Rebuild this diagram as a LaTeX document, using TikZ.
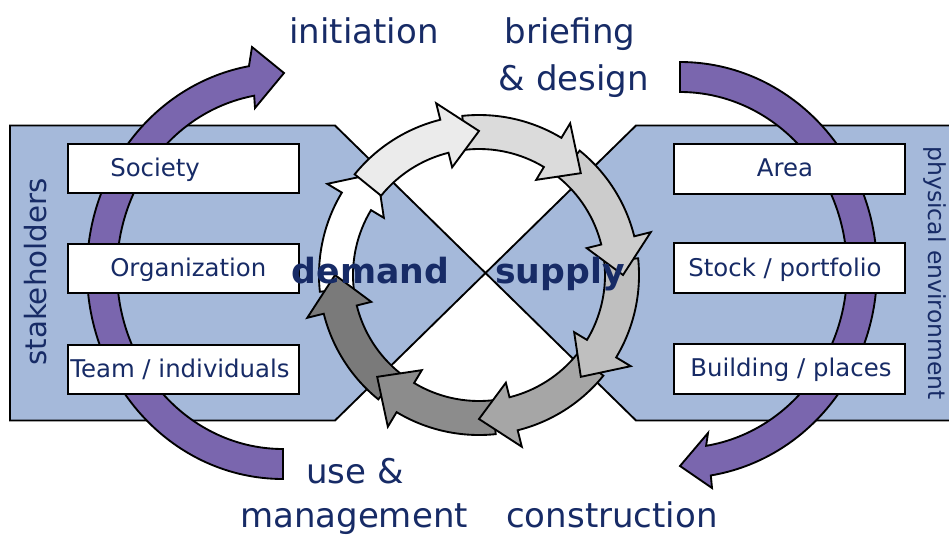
\documentclass[tikz,border=0pt]{standalone}
\usepackage{fontspec}
\setmainfont{DejaVu Sans}
\usetikzlibrary{calc}
\definecolor{panelblue}{HTML}{A5B9DA}
\definecolor{arcpurple}{HTML}{7A66AE}
\definecolor{navy}{HTML}{172B66}
\newcommand{\ringarr}[2]{%
  \filldraw[ringarrow, fill=#1]
    ($(R)+({#2-51}:160)$) arc[start angle={#2-51}, end angle={#2-14}, radius=160]
    -- ($(R)+({#2-14}:177)$) -- ($(R)+({#2}:144)$) -- ($(R)+({#2-14}:111)$)
    -- ($(R)+({#2-14}:126)$) arc[start angle={#2-14}, end angle={#2-51}, radius=126]
    -- cycle;}
\begin{document}
\begin{tikzpicture}[x=0.75pt, y=-0.75pt,
  panel/.style={fill=panelblue, draw=black, line width=1.4pt, line join=miter},
  bigarc/.style={fill=arcpurple, draw=black, line width=1.4pt, line join=miter},
  labelbox/.style={fill=white, draw=black, line width=1.4pt, inner sep=0pt, anchor=north west},
  ringarrow/.style={draw=black, line width=1.4pt, line join=miter},
  boxtext/.style={text=navy, font=\fontsize{18.3}{22}\selectfont, inner sep=0pt},
  bigtext/.style={text=navy, font=\fontsize{25.5}{30}\selectfont, inner sep=0pt, anchor=base},
  boldtext/.style={text=navy, font=\bfseries\fontsize{26}{30}\selectfont, inner sep=0pt, anchor=base}]
\useasboundingbox (0,0) rectangle (949,536);

% panels
\coordinate (X) at (485.5,273);
\filldraw[panel] (10,125.5) -- (335,125.5) -- (X) -- (335,420.5) -- (10,420.5) -- cycle;
\filldraw[panel] (965,125.5) -- (636,125.5) -- (X) -- (636,420.5) -- (965,420.5) -- cycle;

% purple arcs
\coordinate (L) at (283,271);
\coordinate (Lh1) at (252,47);
\coordinate (Lt) at (284,73);
\coordinate (Lh2) at (255,108);
\filldraw[bigarc] ($(L)+(90:196 and 208)$) arc[start angle=90, end angle=260, x radius=196, y radius=208]
  -- (Lh1) -- (Lt) -- (Lh2)
  -- ($(L)+(260:166 and 178)$) arc[start angle=260, end angle=90, x radius=166, y radius=178] -- cycle;
\coordinate (Rc) at (680,270);
\coordinate (Rh1) at (712,488);
\coordinate (Rt) at (680,466);
\coordinate (Rh2) at (708,433);
\filldraw[bigarc] ($(Rc)+(270:197 and 208)$) arc[start angle=270, end angle=441, x radius=197, y radius=208]
  -- (Rh1) -- (Rt) -- (Rh2)
  -- ($(Rc)+(441:167 and 178)$) arc[start angle=441, end angle=270, x radius=167, y radius=178] -- cycle;

% boxes
\node[labelbox, minimum width=173.25pt, minimum height=36.75pt] (bsoc) at (67,143) {};
\node[labelbox, minimum width=173.25pt, minimum height=36.75pt] (borg) at (67,243) {};
\node[labelbox, minimum width=173.25pt, minimum height=36.75pt] (bteam) at (67,344) {};
\node[labelbox, minimum width=173.25pt, minimum height=37.5pt] (barea) at (673,143) {};
\node[labelbox, minimum width=173.25pt, minimum height=37.5pt] (bstock) at (673,242) {};
\node[labelbox, minimum width=173.25pt, minimum height=37.5pt] (bbuild) at (673,343) {};

\node[boxtext, anchor=base west] (tsoc) at (110,176) {Society};
\node[boxtext, anchor=base west] (torg) at (110,276) {Organization};
\node[boxtext, anchor=base west] (tteam) at (70,377) {Team / individuals};
\node[boxtext, anchor=base] (tarea) at (785,176.5) {Area};
\node[boxtext, anchor=base] (tstock) at (785,276) {Stock / portfolio};
\node[boxtext, anchor=base] (tbuild) at (791,376.5) {Building / places};

% ring of arrows
\coordinate (R) at (479,275);
\ringarr{white}{-135}
\ringarr{black!52}{180}
\ringarr{black!45}{135}
\ringarr{black!35}{90}
\ringarr{black!25}{45}
\ringarr{black!20}{0}
\ringarr{black!14}{-45}
\ringarr{black!8}{-90}

% central words
\node[boldtext] (demand) at (370.5,283) {demand};
\node[boldtext] (supply) at (560,283) {supply};

% phase labels
\node[bigtext] (init) at (364,43) {initiation};
\node[bigtext] (brief) at (570,43) {briefing};
\node[bigtext] (design) at (574,90) {\& design};
\node[bigtext] (use) at (355,483) {use \&};
\node[bigtext] (manage) at (354,527) {management};
\node[bigtext] (constr) at (612,527) {construction};

% side labels
\node[text=navy, font=\fontsize{22}{26}\selectfont, rotate=90, inner sep=0pt] (stake) at (36,272) {stakeholders};
\node[text=navy, font=\fontsize{17.6}{21}\selectfont, rotate=-90, inner sep=0pt] (phys) at (935,273) {physical environment};
\end{tikzpicture}
\end{document}
